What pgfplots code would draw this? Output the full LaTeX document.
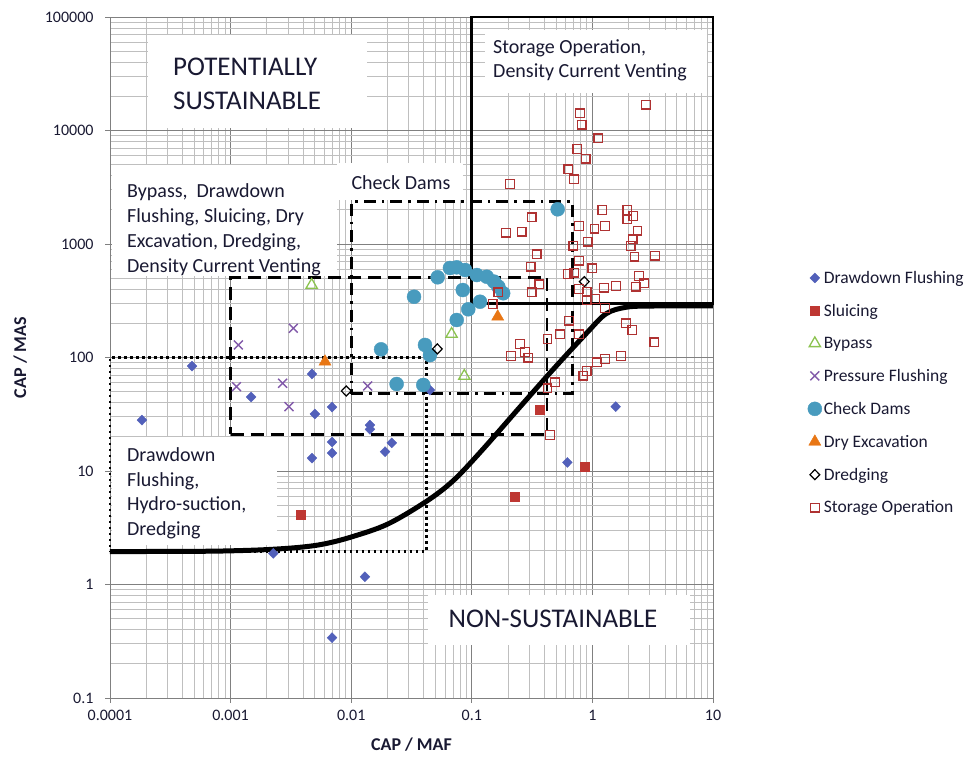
\documentclass[border=0pt]{standalone}
\usepackage{fontspec}
\setmainfont{Carlito}
\usepackage{pgfplots}
\pgfplotsset{compat=1.18}
\definecolor{cdd}{RGB}{82,96,186}
\definecolor{csl}{RGB}{190,55,50}
\definecolor{cby}{RGB}{140,195,80}
\definecolor{cpf}{RGB}{130,90,170}
\definecolor{ccd}{RGB}{72,155,190}
\definecolor{cde}{RGB}{232,118,20}
\definecolor{cso}{RGB}{175,50,50}
\definecolor{ctx}{RGB}{25,25,50}
\begin{document}
\begin{tikzpicture}
\useasboundingbox (-110pt,-65pt) rectangle (857pt,698pt);
\begin{axis}[
 at={(0pt,0pt)}, anchor=south west,
 scale only axis, width=603pt, height=681pt,
 xmode=log, ymode=log,
 xmin=0.0001, xmax=10, ymin=0.1, ymax=100000,
 xtick={0.0001,0.001,0.01,0.1,1,10},
 xticklabels={0.0001,0.001,0.01,0.1,1,10},
 ytick={0.1,1,10,100,1000,10000,100000},
 yticklabels={0.1,1,10,100,1000,10000,100000},
 minor xtick={0.0002,0.0003,0.0004,0.0005,0.0006,0.0007,0.0008,0.0009,0.002,0.003,0.004,0.005,0.006,0.007,0.008,0.009,0.02,0.03,0.04,0.05,0.06,0.07,0.08,0.09,0.2,0.3,0.4,0.5,0.6,0.7,0.8,0.9,2,3,4,5,6,7,8,9},
 minor ytick={0.2,0.3,0.4,0.5,0.6,0.7,0.8,0.9,2,3,4,5,6,7,8,9,20,30,40,50,60,70,80,90,200,300,400,500,600,700,800,900,2000,3000,4000,5000,6000,7000,8000,9000,20000,30000,40000,50000,60000,70000,80000,90000},
 grid=both,
 major grid style={black!50, line width=0.9pt},
 minor grid style={black!25, line width=0.9pt},
 axis line style={black!50, line width=0.9pt},
 tick pos=left, tick align=outside,
 major tick length=5pt, minor tick length=0pt,
 tick style={black!50, line width=0.9pt},
 ticklabel style={font=\fontsize{16}{19}\selectfont, text=ctx},
 xticklabel style={yshift=-4pt},
 yticklabel style={xshift=-8pt},
 xlabel={\textbf{CAP / MAF}}, ylabel={\textbf{CAP / MAS}},
 label style={font=\fontsize{18}{21}\selectfont, text=ctx},
 xlabel style={at={(axis description cs:0.5,-0.069)}, anchor=center},
 ylabel style={at={(axis description cs:-0.149,0.5)}, anchor=center},
 clip=false,
 legend style={at={(rel axis cs:1.152,0.633)}, anchor=north west, draw=none, fill=none,
   font=\fontsize{17.5}{20}\selectfont, row sep=15.3pt, text=ctx},
 legend cell align=left,
]
% region boxes
\addplot[forget plot, black, line width=2.6pt, sharp plot] coordinates {(0.1,300)(10,300)(10,100000)(0.1,100000)(0.1,300)};
\addplot[forget plot, black, line width=2.8pt, dash pattern=on 12pt off 6pt on 2.5pt off 6pt, sharp plot] coordinates {(0.01,48)(0.68,48)(0.68,2360)(0.01,2360)(0.01,48)};
\addplot[forget plot, black, line width=2.8pt, dash pattern=on 13pt off 7pt, sharp plot] coordinates {(0.001,21)(0.42,21)(0.42,510)(0.001,510)(0.001,21)};
\addplot[forget plot, black, line width=2.8pt, dash pattern=on 2.5pt off 3.5pt, sharp plot] coordinates {(0.0001,1.95)(0.042,1.95)(0.042,100)(0.0001,100)(0.0001,1.95)};
% curve
\addplot[forget plot, black, line width=5pt, smooth, tension=0.55] coordinates {(0.0001,1.95)(0.0005,1.96)(0.001,1.98)(0.002,2.03)(0.0038,2.13)(0.006,2.28)(0.01,2.62)(0.02,3.4)(0.042,5.4)(0.07,8.2)(0.12,15)(0.25,36.5)(0.47,78)(0.9,165)(1.3,243)(1.9,277)(3,284)(10,285)};
% data
\addplot[only marks, mark=diamond*, mark size=5pt, color=cdd, fill=cdd, mark options={xscale=1.3}] coordinates {(0.000184,28.1)(0.000479,84)(0.00148,44.9)(0.00473,71.6)(0.005,31.8)(0.00694,36.6)(0.00694,18.0)(0.00694,14.4)(0.00473,13.0)(0.0143,25.4)(0.0143,23.3)(0.0217,17.7)(0.0191,14.8)(0.013,1.17)(0.00694,0.34)(0.00226,1.88)(0.045,51.7)(1.56,36.9)(0.62,11.9)};
\addlegendentry{Drawdown Flushing}
\addplot[only marks, mark=square*, mark size=4.5pt, color=csl, fill=csl] coordinates {(0.00384,4.15)(0.363,35)(0.87,10.9)(0.228,5.9)};
\addlegendentry{Sluicing}
\addplot[only marks, mark=triangle, mark size=6.5pt, line width=1.3pt, color=cby] coordinates {(0.068,161)(0.0867,68.7)(0.0047,435)};
\addlegendentry{Bypass}
\addplot[only marks, mark=x, mark size=6.3pt, line width=1.4pt, color=cpf] coordinates {(0.00331,181)(0.00116,129)(0.00112,55.3)(0.0027,59.3)(0.00305,36.9)(0.0137,56.1)};
\addlegendentry{Pressure Flushing}
\addplot[only marks, mark=*, mark size=7pt, color=ccd, fill=ccd] coordinates {(0.0521,509)(0.0659,615)(0.075,623)(0.0879,590)(0.11,533)(0.133,515)(0.153,466)(0.166,421)(0.182,368)(0.0842,393)(0.0332,343)(0.117,310)(0.0935,266)(0.075,214)(0.0409,129)(0.045,105)(0.0177,118)(0.0238,58.4)(0.0396,57.3)(0.515,2021)};
\addlegendentry{Check Dams}
\addplot[only marks, mark=triangle*, mark size=7pt, color=cde, fill=cde] coordinates {(0.00607,91.8)(0.164,229)};
\addlegendentry{Dry Excavation}
\addplot[only marks, mark=diamond, mark size=5pt, line width=1.2pt, color=black, mark options={xscale=1.3}] coordinates {(0.0518,119)(0.0091,50.7)(0.857,466)};
\addlegendentry{Dredging}
\addplot[only marks, mark=square, mark size=4.3pt, line width=1.2pt, color=cso] coordinates {(2.78,16870)(0.789,14180)(0.815,11250)(1.12,8540)(0.75,6870)(0.879,5640)(0.631,4550)(0.703,3720)(0.208,3380)(1.21,1995)(1.95,1995)(2.18,1765)(1.95,1650)(0.314,1720)(0.192,1258)(0.259,1283)(0.775,1441)(1.04,1364)(1.27,1441)(2.37,1310)(0.914,1048)(2.16,1100)(2.08,960)(0.695,966)(0.345,811)(2.23,773)(3.30,789)(0.308,631)(0.775,713)(0.997,611)(0.624,544)(0.708,558)(2.43,522)(2.68,451)(2.29,421)(1.57,427)(1.25,412)(0.897,380)(0.775,401)(0.363,442)(0.314,375)(0.166,375)(1.05,328)(0.897,321)(1.27,273)(0.149,296)(0.640,211)(1.90,200)(2.14,175)(0.538,160)(0.425,146)(0.775,160)(3.26,136)(0.251,131)(0.276,112)(0.294,99.6)(0.211,103)(1.73,103)(1.27,97)(1.09,90.8)(0.897,76)(0.841,69.2)(0.49,60.4)(0.425,53.5)(0.444,20.8)};
\addlegendentry{Storage Operation}
% text boxes
\fill[white] (rel axis cs:0.0630,0.9736) rectangle (rel axis cs:0.4262,0.8370);
\node[anchor=west, align=left, text=ctx, font=\fontsize{27}{34}\selectfont, inner sep=0pt] at (rel axis cs:0.1045,0.9016) {POTENTIALLY\\SUSTAINABLE};
\fill[white] (rel axis cs:0.0033,0.7827) rectangle (rel axis cs:0.3765,0.6197);
\node[anchor=west, align=left, text=ctx, font=\fontsize{20}{25}\selectfont, inner sep=0pt] at (rel axis cs:0.0282,0.6880) {Bypass,\ \ Drawdown\\Flushing, Sluicing, Dry\\Excavation, Dredging,\\Density Current Venting};
\fill[white] (rel axis cs:0.3765,0.7856) rectangle (rel axis cs:0.5854,0.7313);
\node[anchor=center, text=ctx, font=\fontsize{20}{25}\selectfont, inner sep=0pt] at (rel axis cs:0.4826,0.7562) {Check Dams};
\fill[white] (rel axis cs:0.6219,0.9809) rectangle (rel axis cs:0.9900,0.8884);
\node[anchor=west, align=left, text=ctx, font=\fontsize{20}{24}\selectfont, inner sep=0pt] at (rel axis cs:0.6352,0.9361) {Storage Operation,\\Density Current Venting};
\fill[white] (rel axis cs:0.0033,0.3833) rectangle (rel axis cs:0.2769,0.2247);
\node[anchor=west, align=left, text=ctx, font=\fontsize{20}{24.5}\selectfont, inner sep=0pt] at (rel axis cs:0.0282,0.3003) {Drawdown\\Flushing,\\Hydro-suction,\\Dredging};
\fill[white] (rel axis cs:0.5274,0.1512) rectangle (rel axis cs:0.9619,0.0778);
\node[anchor=center, text=ctx, font=\fontsize{27}{32}\selectfont, inner sep=0pt] at (rel axis cs:0.7347,0.1160) {NON-SUSTAINABLE};
\end{axis}
\end{tikzpicture}
\end{document}
